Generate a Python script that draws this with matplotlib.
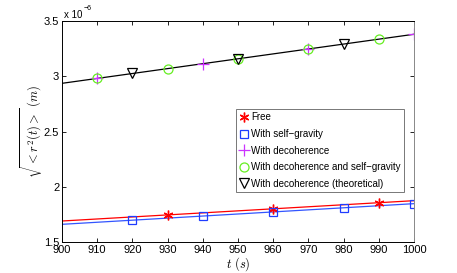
import matplotlib
matplotlib.use("Agg")
import matplotlib.pyplot as plt
from matplotlib.ticker import FuncFormatter

plt.rcParams['font.family'] = ['Liberation Sans', 'DejaVu Sans']
plt.rcParams['mathtext.fontset'] = 'cm'

# Data (values in metres)
t_free = [930, 960, 990]
r_free = [1.744e-6, 1.800e-6, 1.856e-6]
t_sg = [920, 940, 960, 980, 1000]
r_sg = [1.697e-6, 1.735e-6, 1.772e-6, 1.810e-6, 1.847e-6]
t_dec = [910, 940, 970, 1000]
r_dec = [2.980e-6, 3.114e-6, 3.247e-6, 3.380e-6]
t_decsg = [910, 930, 950, 970, 990]
r_decsg = [2.980e-6, 3.069e-6, 3.158e-6, 3.247e-6, 3.336e-6]
t_theo = [920, 950, 980]
r_theo = [3.025e-6, 3.158e-6, 3.291e-6]

# Fit lines (end points)
t_line = [900, 1000]
r_line_free = [1.690e-6, 1.874e-6]
r_line_sg = [1.660e-6, 1.847e-6]
r_line_dec = [2.936e-6, 3.380e-6]

fig = plt.figure(figsize=(4.57, 2.73), dpi=100)
ax = fig.add_axes([62/457, 1-242/273, (414-62)/457, (242-21)/273])

ax.plot(t_line, r_line_free, color='red', lw=0.9)
ax.plot(t_line, r_line_sg, color='#3355ff', lw=0.9)
ax.plot(t_line, r_line_dec, color='black', lw=0.9)

ax.plot(t_free, r_free, ls='none', marker=(6, 2, 0), ms=7, mec='red', mew=1.0, label='Free')
ax.plot(t_sg, r_sg, ls='none', marker='s', ms=5.5, mfc='none', mec='#1f3cff', mew=0.9, label='With self\u2212gravity')
ax.plot(t_dec, r_dec, ls='none', marker='+', ms=8, mec='#cc33ff', mew=0.9, label='With decoherence')
ax.plot(t_decsg, r_decsg, ls='none', marker='o', ms=6.5, mfc='none', mec='#66ee22', mew=0.9, label='With decoherence and self\u2212gravity')
ax.plot(t_theo, r_theo, ls='none', marker='v', ms=7, mfc='none', mec='black', mew=0.9, label='With decoherence (theoretical)')

ax.set_xlim(900, 1000)
ax.set_ylim(1.5e-6, 3.5e-6)
ax.set_xticks(list(range(900, 1001, 10)))
ax.set_yticks([1.5e-6, 2e-6, 2.5e-6, 3e-6, 3.5e-6])
ax.yaxis.set_major_formatter(FuncFormatter(lambda v, p: '%g' % round(v*1e6, 3)))
ax.tick_params(direction='in', top=True, right=True, labelsize=8, length=3, width=0.6, pad=2)
for s in ax.spines.values():
    s.set_linewidth(0.7)
ax.spines['right'].set_color('#888888')

ax.text(0.005, 1.005, 'x 10', transform=ax.transAxes, fontsize=7, ha='left', va='bottom')
ax.text(0.062, 1.04, '\u22126', transform=ax.transAxes, fontsize=5, ha='left', va='bottom')
ax.set_xlabel(r'$t\ (s)$', fontsize=9, labelpad=0)
ax.set_ylabel(r'$\sqrt{<r^2(t)>}\ (m)$', fontsize=9, labelpad=-1)

leg = ax.legend(loc='upper left', bbox_to_anchor=(236/457, 1-109/273), bbox_transform=fig.transFigure,
                fontsize=7.0, frameon=True, fancybox=False, edgecolor='#555555', handlelength=0.9,
                handletextpad=0.3, borderpad=0.35, labelspacing=0.68, borderaxespad=0)
leg.get_frame().set_linewidth(0.7)

fig.savefig('out.png', dpi=100)
